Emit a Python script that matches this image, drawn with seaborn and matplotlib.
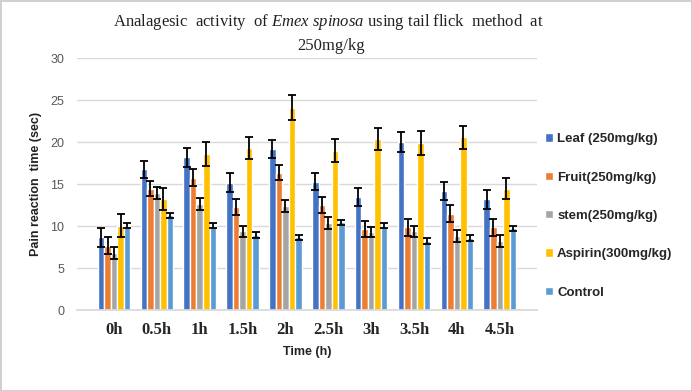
import matplotlib
matplotlib.use("Agg")
import matplotlib.pyplot as plt
import pandas as pd
import seaborn as sns

sns.set_theme(style="whitegrid")
plt.rcParams['font.family'] = ['Liberation Sans', 'DejaVu Sans']
plt.rcParams['mathtext.fontset'] = 'custom'
plt.rcParams['mathtext.rm'] = 'Liberation Serif'
plt.rcParams['mathtext.it'] = 'Liberation Serif:italic'

times = ["0h", "0.5h", "1h", "1.5h", "2h", "2.5h", "3h", "3.5h", "4h", "4.5h"]
groups = ["Leaf (250mg/kg)", "Fruit(250mg/kg)", "stem(250mg/kg)", "Aspirin(300mg/kg)", "Control"]

leaf = [8.7, 16.8, 18.2, 15.2, 19.2, 15.3, 13.5, 20.0, 14.2, 13.2]
fruit = [7.7, 14.5, 15.8, 12.3, 16.4, 12.6, 9.7, 9.9, 11.5, 9.9]
stem = [6.8, 14.0, 12.7, 9.4, 12.4, 10.4, 9.3, 9.4, 8.9, 8.3]
aspirin = [10.1, 13.3, 18.6, 19.3, 24.1, 19.0, 20.4, 19.9, 20.6, 14.5]
control = [10.1, 11.3, 10.1, 9.0, 8.7, 10.5, 10.1, 8.3, 8.6, 9.8]

leaf_err = [1.1, 1.0, 1.1, 1.1, 1.1, 1.0, 1.1, 1.2, 1.1, 1.1]
fruit_err = [1.0, 0.9, 1.0, 1.0, 0.9, 0.95, 1.0, 1.0, 1.0, 1.0]
stem_err = [0.7, 0.7, 0.7, 0.7, 0.7, 0.7, 0.6, 0.7, 0.7, 0.7]
aspirin_err = [1.4, 1.3, 1.4, 1.3, 1.5, 1.4, 1.3, 1.4, 1.4, 1.3]
control_err = [0.3, 0.35, 0.3, 0.35, 0.3, 0.3, 0.35, 0.35, 0.35, 0.3]

colors = ["#4472C4", "#ED7D31", "#A5A5A5", "#FFC000", "#5B9BD5"]

values = [leaf, fruit, stem, aspirin, control]
errors = [leaf_err, fruit_err, stem_err, aspirin_err, control_err]

rows = []
for g, vals, errs in zip(groups, values, errors):
    for t, v, e in zip(times, vals, errs):
        rows.append({"Time": t, "Group": g, "Value": v, "Err": e})
df = pd.DataFrame(rows)

fig = plt.figure(figsize=(6.92, 3.91), dpi=100)
fig.patch.set_edgecolor("#d0d0d0")
fig.patch.set_linewidth(2)
ax = fig.add_axes([0.111, 0.206, 0.665, 0.645])

sns.barplot(data=df, x="Time", y="Value", hue="Group", order=times, hue_order=groups,
            palette=colors, errorbar=None, width=0.76, saturation=1, ax=ax)

for cont, errs in zip(ax.containers, errors):
    xs = [p.get_x() + p.get_width() / 2 for p in cont.patches]
    ys = [p.get_height() for p in cont.patches]
    ax.errorbar(xs, ys, yerr=errs, fmt="none", ecolor="black", elinewidth=1.3,
                capsize=3, capthick=1.3)

ax.set_ylim(0, 30)
ax.set_yticks(range(0, 31, 5))
ax.grid(axis="y", color="#d9d9d9", linewidth=1)
ax.grid(axis="x", visible=False)
for s in ["left", "right", "top"]:
    ax.spines[s].set_visible(False)
ax.spines["bottom"].set_color("#d9d9d9")
ax.tick_params(axis="y", labelsize=9, colors="#595959", length=0, pad=9)
ax.tick_params(axis="x", length=0, pad=8)
for lab in ax.get_xticklabels():
    lab.set_fontfamily("Liberation Serif")
    lab.set_fontweight("bold")
    lab.set_fontsize(12)

ax.set_xlabel("Time (h)", fontsize=9, fontweight="bold", color="#222222", labelpad=6)
ax.set_ylabel("Pain reaction  time (sec)", fontsize=9, fontweight="bold", color="#222222", labelpad=6)

fig.text(0.474, 0.943, r"Analagesic  activity  of $\mathit{Emex\ spinosa}$ using tail flick  method  at",
         ha="center", va="center", fontsize=12, family="Liberation Serif", color="#222222")
fig.text(0.478, 0.883, "250mg/kg", ha="center", va="center", fontsize=12,
         family="Liberation Serif", color="#222222")

ax.legend(loc="upper left", bbox_to_anchor=(0.995, 0.745), frameon=False,
          handlelength=0.6, handleheight=0.6, handletextpad=0.3, labelspacing=2.0,
          borderpad=0.3, prop={"weight": "bold", "size": 9.5})

fig.savefig("out.png", dpi=100)
